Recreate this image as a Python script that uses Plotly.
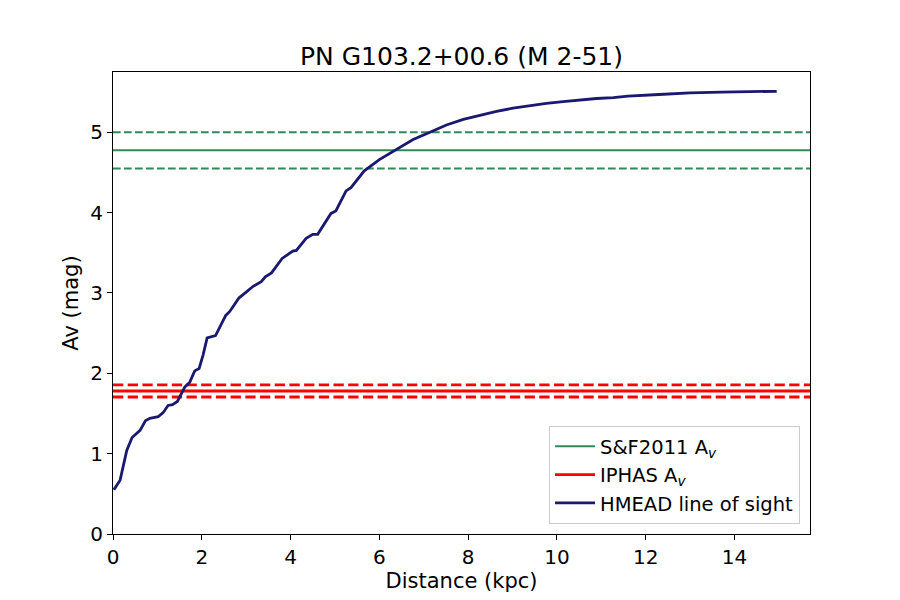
import plotly.graph_objects as go

# HMEAD line of sight (distance in kpc, extinction in mag)
distance = [0.02, 0.16, 0.31, 0.43, 0.61, 0.73, 0.83, 1.02, 1.13, 1.24, 1.34, 1.45,
            1.62, 1.73, 1.84, 1.94, 2.03, 2.12, 2.31, 2.42, 2.54, 2.63, 2.84, 3.00,
            3.15, 3.34, 3.43, 3.57, 3.81, 4.05, 4.13, 4.35, 4.50, 4.61, 4.91, 5.02,
            5.25, 5.36, 5.55, 5.66, 6.00, 6.39, 6.76, 7.14, 7.51, 7.89, 8.26, 8.64,
            9.01, 9.39, 9.76, 10.14, 10.52, 10.89, 11.27, 11.60, 12.30, 13.00, 13.70,
            14.40, 14.95]
av_los = [0.55, 0.67, 1.04, 1.20, 1.29, 1.41, 1.44, 1.46, 1.51, 1.60, 1.61, 1.65,
          1.83, 1.89, 2.03, 2.06, 2.23, 2.44, 2.47, 2.60, 2.72, 2.77, 2.94, 3.01,
          3.08, 3.14, 3.20, 3.25, 3.43, 3.52, 3.53, 3.68, 3.73, 3.73, 3.99, 4.02,
          4.27, 4.31, 4.45, 4.52, 4.66, 4.79, 4.91, 5.00, 5.09, 5.16, 5.21, 5.26,
          5.30, 5.33, 5.36, 5.38, 5.40, 5.42, 5.43, 5.45, 5.47, 5.49, 5.50,
          5.51, 5.51]

# S&F2011 and IPHAS extinction with their errors
sf_av, sf_err = 4.775, 0.225
iphas_av, iphas_err = 1.78, 0.075

x_range = [0, 15.70]
y_range = [0, 5.75]

green = '#2E8B57'
red = '#FF0000'
navy = '#191970'

fig = go.Figure()

fig.add_trace(go.Scatter(x=x_range, y=[sf_av, sf_av], mode='lines',
                         name='S&F2011 A<sub><i>v</i></sub>',
                         line=dict(color=green, width=2)))
for v in (sf_av + sf_err, sf_av - sf_err):
    fig.add_trace(go.Scatter(x=x_range, y=[v, v], mode='lines', showlegend=False,
                             hoverinfo='skip',
                             line=dict(color=green, width=2, dash='7.7px,3.3px')))

fig.add_trace(go.Scatter(x=x_range, y=[iphas_av, iphas_av], mode='lines',
                         name='IPHAS A<sub><i>v</i></sub>',
                         line=dict(color=red, width=2.8)))
for v in (iphas_av + iphas_err, iphas_av - iphas_err):
    fig.add_trace(go.Scatter(x=x_range, y=[v, v], mode='lines', showlegend=False,
                             hoverinfo='skip',
                             line=dict(color=red, width=2.8, dash='10.3px,4.4px')))

fig.add_trace(go.Scatter(x=distance, y=av_los, mode='lines',
                         name='HMEAD line of sight',
                         line=dict(color=navy, width=2.8)))

axis_style = dict(
    showline=True, linecolor='black', linewidth=1.1, mirror=True,
    ticks='outside', ticklen=5, tickwidth=1.1, tickcolor='black',
    showgrid=False, zeroline=False,
    tickfont=dict(size=20, color='black'),
)

fig.update_layout(
    title=dict(text='PN G103.2+00.6 (M 2-51)', x=0.5, xref='paper', xanchor='center',
               y=1, yref='paper', yanchor='bottom', pad=dict(b=7),
               font=dict(size=25, color='black')),
    font=dict(family='DejaVu Sans', color='black', size=20),
    xaxis=dict(range=x_range, dtick=2, title=dict(text='Distance (kpc)', standoff=2,
                                                  font=dict(size=21)), **axis_style),
    yaxis=dict(range=y_range, dtick=1, title=dict(text='Av (mag)', standoff=5,
                                                  font=dict(size=21)), **axis_style),
    legend=dict(x=0.9857, y=0.0216, xanchor='right', yanchor='bottom',
                bgcolor='rgba(255,255,255,0.8)', bordercolor='#cccccc', borderwidth=1,
                font=dict(size=19.5), tracegroupgap=0, itemwidth=40),
    plot_bgcolor='white',
    paper_bgcolor='white',
    margin=dict(l=105, r=98, t=64, b=74),
    width=900,
    height=600,
    showlegend=True,
)

fig.write_html("out.html")
